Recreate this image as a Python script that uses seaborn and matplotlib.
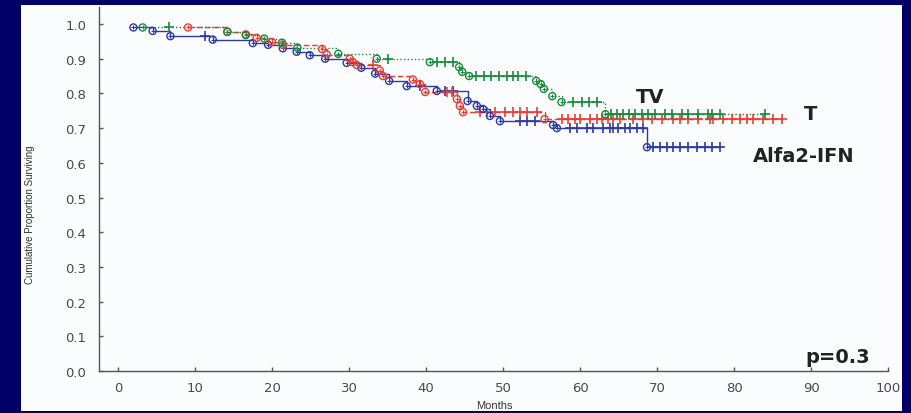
import numpy as np
import pandas as pd
import matplotlib
matplotlib.use("Agg")
import matplotlib.pyplot as plt
from matplotlib.patches import Rectangle
import seaborn as sns

# ---- survival data (months, cumulative proportion surviving) ----
groups = ["Alfa2-IFN", "T", "TV"]

ifn_event_t = [2.0, 4.5, 6.8, 12.3, 17.5, 19.5, 21.4, 23.2, 24.9, 26.9, 29.7, 31.6,
               33.4, 35.2, 37.5, 41.4, 45.4, 46.6, 47.4, 48.3, 49.6, 56.5, 57.0, 68.7]
ifn_event_s = [0.99, 0.98, 0.965, 0.955, 0.945, 0.94, 0.93, 0.92, 0.91, 0.90, 0.888, 0.874,
               0.857, 0.836, 0.821, 0.807, 0.778, 0.764, 0.755, 0.735, 0.72, 0.709, 0.70, 0.645]
ifn_censor_t = [11.3, 39.2, 42.5, 43.5, 52.2, 53.1, 54.1, 58.7, 59.6, 60.9, 61.7, 63.0,
                63.9, 64.3, 64.9, 65.8, 66.5, 67.4, 68.2, 69.5, 70.4, 71.3, 72.1, 73.0,
                74.0, 75.2, 76.2, 77.1, 78.2]

t_event_t = [9.1, 14.2, 16.6, 18.0, 20.0, 21.4, 26.5, 27.1, 30.1, 30.5, 31.0, 34.0,
             34.4, 38.3, 39.2, 39.9, 44.0, 44.4, 44.8, 55.4]
t_event_s = [0.99, 0.978, 0.97, 0.96, 0.948, 0.94, 0.928, 0.912, 0.90, 0.89, 0.882, 0.866,
             0.85, 0.84, 0.827, 0.804, 0.784, 0.764, 0.746, 0.726]
t_censor_t = [33.1, 42.7, 43.4, 47.0, 47.9, 49.0, 50.3, 51.3, 52.2, 53.1, 54.4, 57.7,
              58.4, 59.4, 60.0, 61.3, 62.2, 62.9, 63.6, 64.3, 65.2, 66.9, 68.2, 69.4,
              70.6, 72.1, 73.0, 74.0, 75.3, 76.9, 77.3, 78.6, 79.7, 80.8, 81.7, 82.5,
              83.8, 85.1, 86.2]

tv_event_t = [3.2, 14.2, 16.6, 19.0, 21.3, 23.3, 28.6, 33.6, 40.5, 44.3, 44.7, 45.6,
              54.3, 54.9, 55.3, 56.4, 57.6, 63.3]
tv_event_s = [0.99, 0.977, 0.968, 0.958, 0.946, 0.932, 0.914, 0.90, 0.89, 0.876, 0.862, 0.85,
              0.836, 0.827, 0.813, 0.792, 0.775, 0.74]
tv_censor_t = [6.6, 35.0, 41.4, 42.5, 43.5, 46.5, 47.5, 48.5, 49.5, 50.5, 51.3, 52.0,
               53.0, 59.1, 60.3, 61.2, 62.2, 64.0, 64.8, 65.6, 66.4, 67.2, 68.0, 68.8,
               69.8, 71.0, 72.0, 73.3, 74.0, 75.3, 76.6, 77.2, 78.2, 84.0]

group_colors = {"Alfa2-IFN": "#2b3aa6", "T": "#ee3b32", "TV": "#188a3c"}
group_styles = {"Alfa2-IFN": "-", "T": (0, (4, 2)), "TV": (0, (1, 1.6))}

series = {
    "Alfa2-IFN": (ifn_event_t, ifn_event_s, ifn_censor_t),
    "T": (t_event_t, t_event_s, t_censor_t),
    "TV": (tv_event_t, tv_event_s, tv_censor_t),
}


def survival_at(times, ev_t, ev_s):
    ev_t = np.asarray(ev_t)
    ev_s = np.asarray(ev_s)
    idx = np.searchsorted(ev_t, times, side="right") - 1
    idx = np.clip(idx, 0, len(ev_s) - 1)
    return ev_s[idx]


frames = []
for g in groups:
    ev_t, ev_s, c_t = series[g]
    c_s = survival_at(np.asarray(c_t), ev_t, ev_s)
    frames.append(pd.DataFrame({"group": g, "month": ev_t, "surv": ev_s, "kind": "event"}))
    frames.append(pd.DataFrame({"group": g, "month": c_t, "surv": c_s, "kind": "censor"}))
df = pd.concat(frames, ignore_index=True).sort_values(["group", "month"])

# ---- figure ----
sns.set_style("white")
plt.rcParams["font.family"] = ["DejaVu Sans"]

fig = plt.figure(figsize=(9.12, 4.14), dpi=100, facecolor="#000066")
panel = Rectangle((21 / 912, 2 / 414), 881 / 912, 406 / 414,
                  transform=fig.transFigure, facecolor="#fbfcfe",
                  edgecolor="none", zorder=-10)
fig.add_artist(panel)
ax = fig.add_axes([99 / 912, 1 - 372 / 414, (888 - 99) / 912, (372 - 8) / 414])
ax.set_facecolor("none")
ax.set_zorder(1)

for g in groups:
    sub = df[df["group"] == g]
    sns.lineplot(data=sub, x="month", y="surv", color=group_colors[g],
                 linestyle=group_styles[g], drawstyle="steps-post",
                 estimator=None, sort=True, linewidth=1.0, ax=ax, legend=False)
    ev = sub[sub["kind"] == "event"]
    ce = sub[sub["kind"] == "censor"]
    sns.scatterplot(data=ce, x="month", y="surv", marker="+", color=group_colors[g],
                    s=50, linewidth=1.2, ax=ax, legend=False, zorder=4)
    sns.scatterplot(data=ev, x="month", y="surv", marker="o", facecolor="none",
                    edgecolor=group_colors[g], s=26, linewidth=1.0, ax=ax,
                    legend=False, zorder=5)
    sns.scatterplot(data=ev, x="month", y="surv", marker="+", color=group_colors[g],
                    s=10, linewidth=0.7, ax=ax, legend=False, zorder=5)

ax.set_xlim(-2.47, 100)
ax.set_ylim(0, 1.049)
ax.set_xticks(np.arange(0, 101, 10))
ax.set_yticks(np.round(np.arange(0, 1.01, 0.1), 1))
ax.set_yticklabels([f"{v:.1f}" for v in np.arange(0, 1.01, 0.1)])
ax.tick_params(direction="in", length=3, width=1, color="#555555",
               labelcolor="#4a4a4a", labelsize=9.5, bottom=True, left=True)
ax.tick_params(axis="y", pad=9)
ax.tick_params(axis="x", pad=7)
for side in ["top", "right"]:
    ax.spines[side].set_visible(False)
for side in ["left", "bottom"]:
    ax.spines[side].set_color("#555555")
    ax.spines[side].set_linewidth(1.0)
ax.set_xlabel("")
ax.set_ylabel("")

fig.text(30 / 912, 1 - 215 / 414, "Cumulative Proportion Surviving", rotation=90,
         ha="center", va="center", fontsize=7, color="#333333",
         family="Liberation Sans")
fig.text(494 / 912, 1 - 406 / 414, "Months", ha="center", va="center",
         fontsize=8, color="#333333", family="Liberation Sans")

label_kw = dict(fontsize=14, fontweight="bold", color="#222222", ha="center", va="center")
ax.text(69.1, 0.7925, "TV", **label_kw)
ax.text(89.9, 0.741, "T", **label_kw)
ax.text(89.0, 0.622, "Alfa2-IFN", **label_kw)
ax.text(93.5, 0.043, "p=0.3", **label_kw)

fig.savefig("out.png", dpi=100, facecolor=fig.get_facecolor())
